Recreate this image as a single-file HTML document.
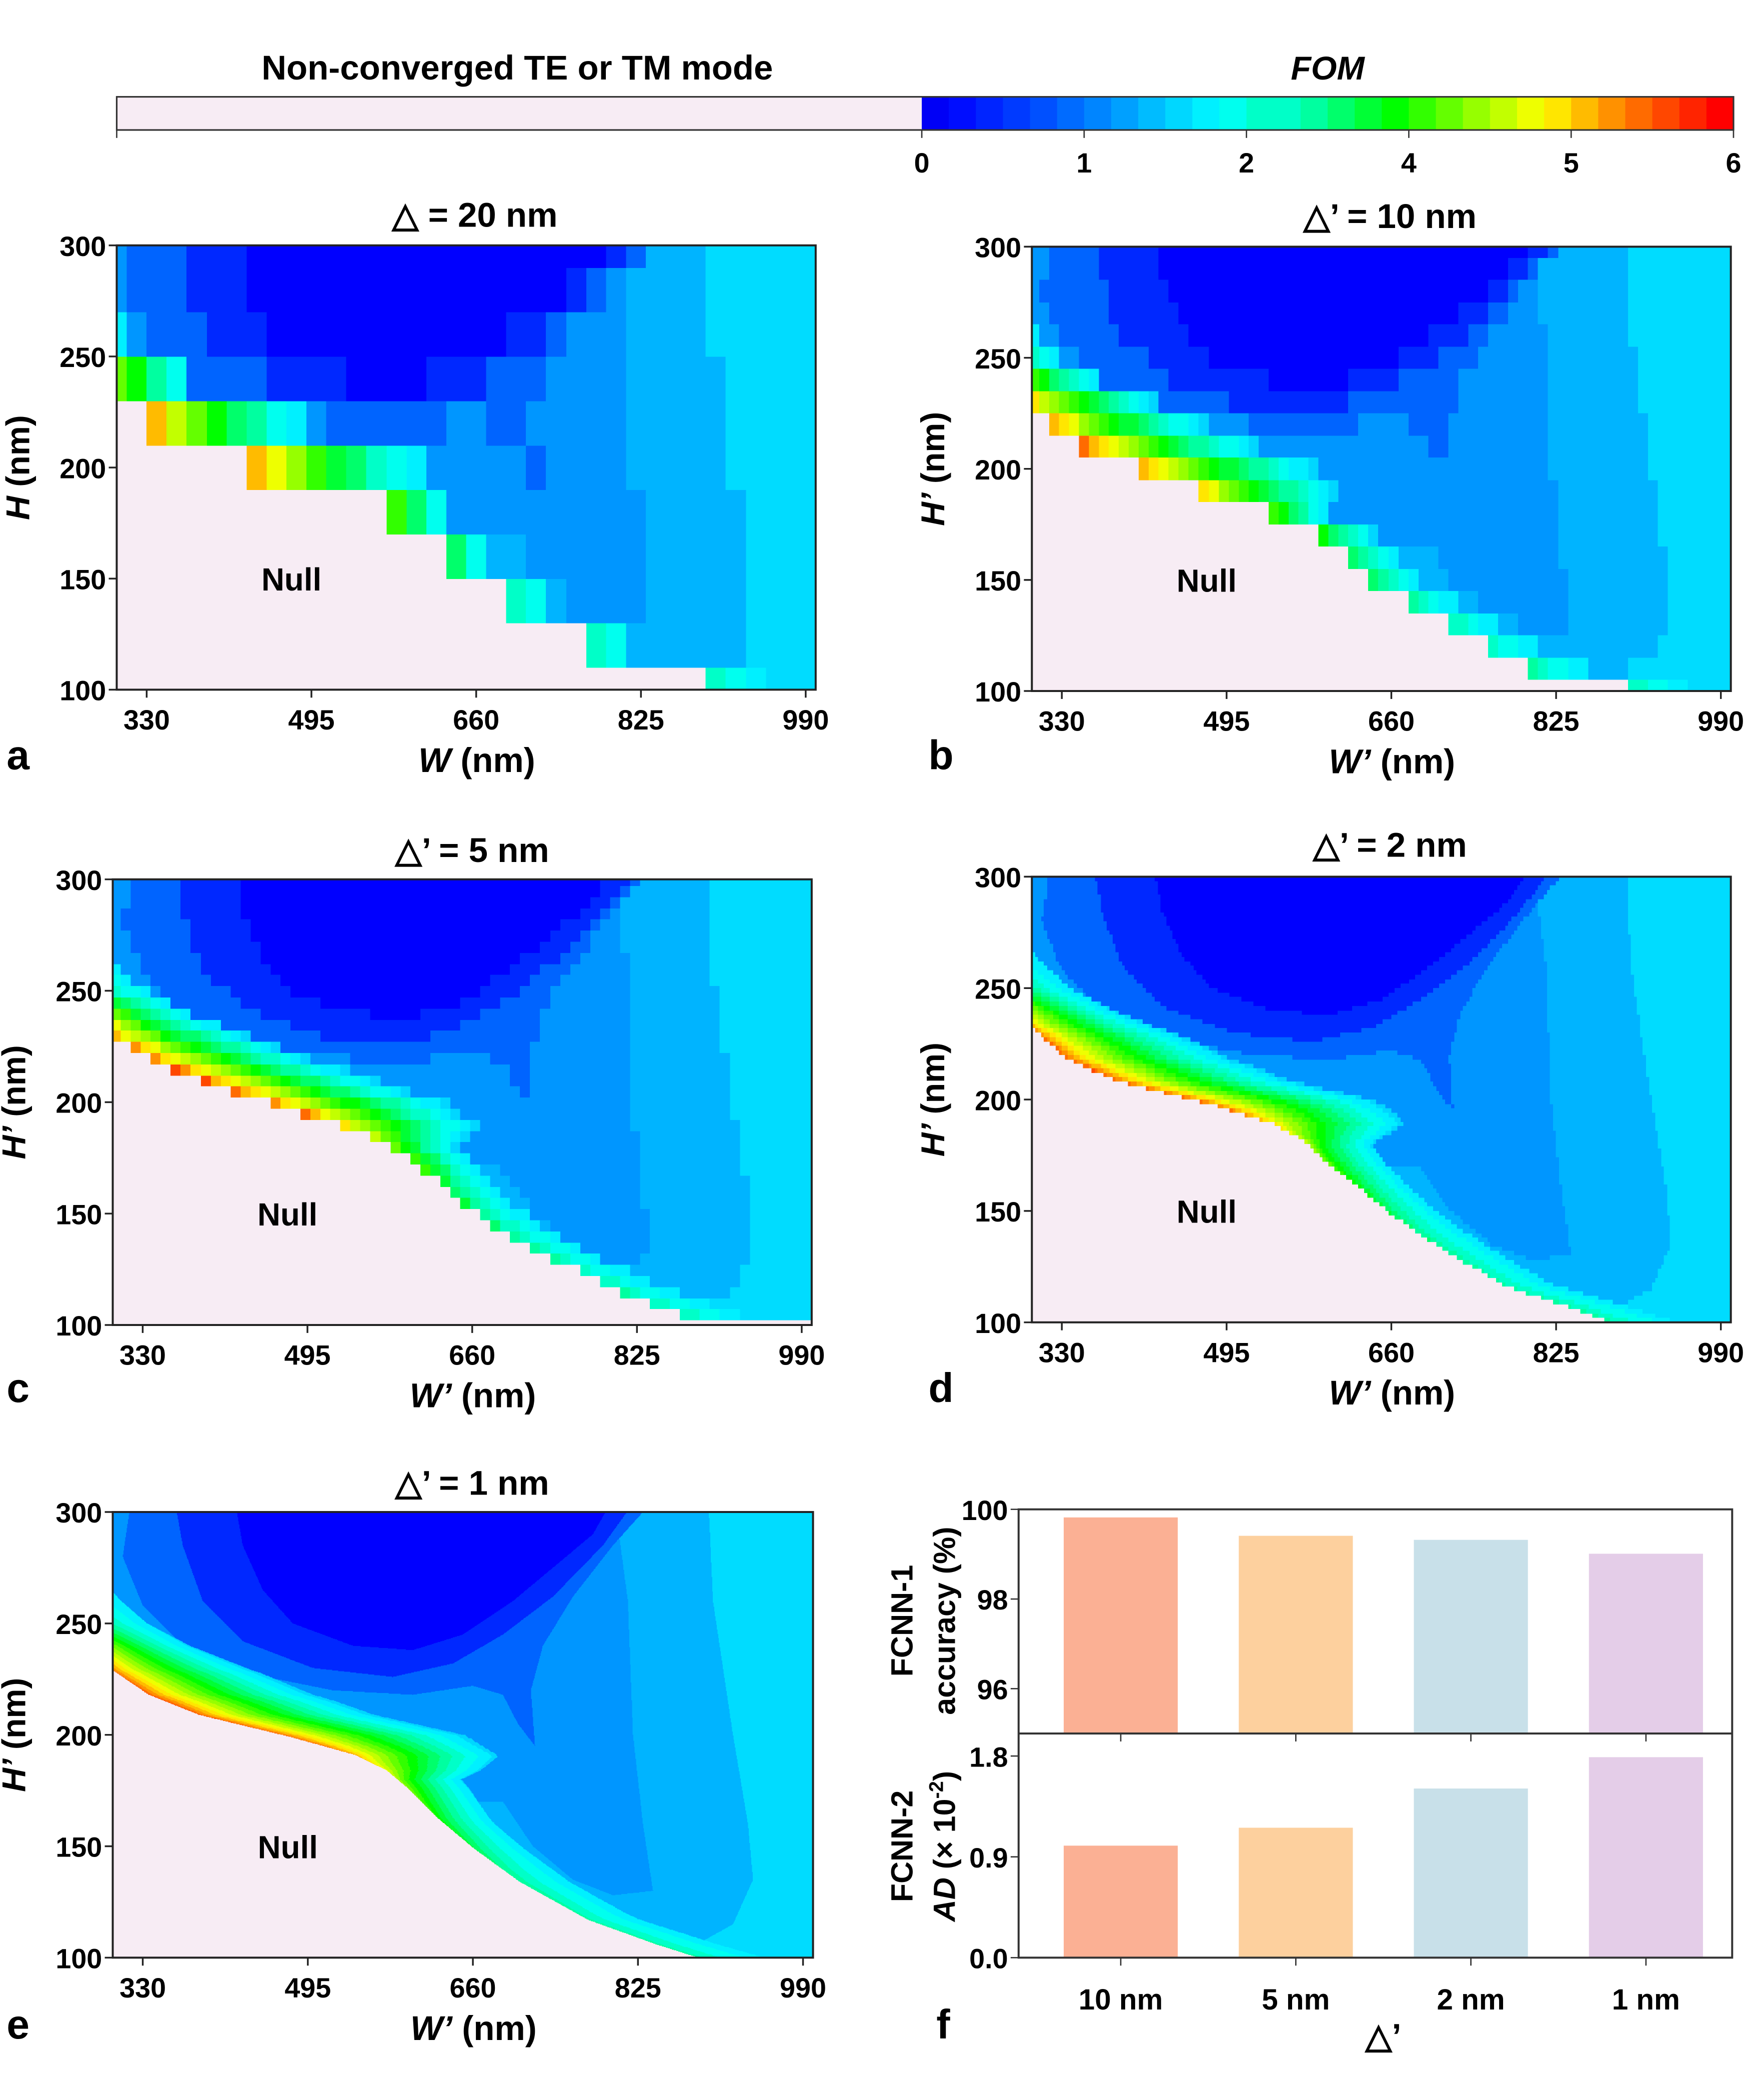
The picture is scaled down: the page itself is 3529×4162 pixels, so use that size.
<!DOCTYPE html>
<html><head><meta charset="utf-8">
<style>
html,body{margin:0;padding:0;background:#fff;}
body{width:3529px;height:4162px;overflow:hidden;position:relative;}
#wrap{position:absolute;left:0;top:0;width:1330px;height:1569px;transform-origin:0 0;transform:scale(2.65338,2.65265);}
canvas{position:absolute;image-rendering:pixelated;}
svg{position:absolute;left:0;top:0;}
text{font-family:"Liberation Sans",Arial,sans-serif;font-weight:bold;fill:#000;}
</style></head>
<body>
<div id="wrap">
<canvas id="cva"></canvas>
<canvas id="cvb"></canvas>
<canvas id="cvc"></canvas>
<canvas id="cvd"></canvas>
<canvas id="cve"></canvas>
<svg id="svg" width="1330" height="1569" viewBox="0 0 1330 1569"></svg>
</div>
<script>
// ---------- data ----------
const fTicks = ["0","1","2","4","5","6"];
const barCats = ["10 nm","5 nm","2 nm","1 nm"];
const accVals = [99.82, 99.41, 99.32, 99.01];
const adVals = [1.00, 1.16, 1.51, 1.79];
const accTicks = [96, 98, 100];
const adTicks = [0.0, 0.9, 1.8];
const barColors = ["#fbb094","#fdd09e","#c8e0e9","#e4cde8"];
const wTicks = [330, 495, 660, 825, 990];
const hTicks = [100, 150, 200, 250, 300];
// null boundary H(W) per panel
const bndA = [[300,230],[330,210],[430,190],[570,170],[630,150],[690,130],[770,110],[890,100]];
const bndB = [[300,225],[327,215],[375,205],[434,195],[505,185],[565,175],[606,165],[624,155],[656,145],[695,135],[734,125],[776,115],[826,105],[894,100],[1000,100]];
const bndC = [[300,229],[328,222],[348,217],[378,212],[408,207],[438,202],[477,197],[509,192],[543,188],[568,182],[592,177],[605,172],[628,163],[656,152],[692,141],[734,131],[775,122],[821,112],[858,106],[894,100],[1000,100]];
const bndD = [[300,232],[336,218],[386,208],[478,198],[542,189],[574,181],[592,173],[624,162],[661,148],[707,134],[775,116],[843,106],[880,100],[1000,100]];
const bndE = [[300,229],[336,218],[386,209],[478,199],[542,191],[574,184],[595,176],[624,163],[661,149],[707,134],[775,117],[843,106],[885,100],[1000,100]];
// band peak colour level and horizontal band width (nm) vs H
const peakArr = [[100,0.5],[120,0.5],[140,0.52],[160,0.6],[180,0.72],[195,0.9],[215,0.93],[228,0.9],[240,0.8],[250,0.62],[260,0.5],[270,0.42],[300,0.38]];
const widthArr = [[100,60],[120,45],[140,45],[160,45],[180,58],[190,125],[200,165],[215,155],[228,130],[240,85],[250,60],[260,50],[300,30]];
// FOM plateau regions (W,H)
const regC5 = [[420,310],[805,310],[780,290],[740,275],[700,260],[650,245],[600,238],[540,240],[480,250],[450,265],[430,285]];
const regC4 = [[360,310],[830,310],[790,285],[740,262],[690,245],[640,232],[580,226],[500,230],[430,242],[390,260],[370,285]];
const regC3 = [[320,310],[850,310],[800,285],[760,262],[730,240],[718,220],[722,195],[705,205],[690,218],[660,222],[600,218],[520,220],[430,228],[370,240],[330,258],[310,280]];
const regMid = [[290,310],[800,310],[815,260],[820,200],[830,160],[840,130],[800,128],[760,135],[720,150],[690,170],[290,170]];
const regC2 = [[290,310],[895,310],[900,260],[920,200],[935,160],[940,135],[920,115],[880,105],[860,90],[290,90]];

const NS="http://www.w3.org/2000/svg";
const svg=document.getElementById('svg');
function el(tag,attrs,parent){const e=document.createElementNS(NS,tag);for(const k in attrs)e.setAttribute(k,attrs[k]);(parent||svg).appendChild(e);return e;}
function txt(x,y,s,size,anchor,extra){const t=el('text',Object.assign({x:x,y:y,'font-size':size,'text-anchor':anchor||'middle'},extra||{}));t.textContent=s;return t;}
function interp(arr,x){if(x<=arr[0][0])return arr[0][1];for(let i=1;i<arr.length;i++){if(x<=arr[i][0]){const a=arr[i-1],b=arr[i];if(b[0]===a[0])return b[1];return a[1]+(b[1]-a[1])*(x-a[0])/(b[0]-a[0]);}}return arr[arr.length-1][1];}
function stepBnd(arr,x){let v=arr[0][1];for(const p of arr){if(x>=p[0])v=p[1];}return v;}
function inPoly(p,x,y){let c=false;for(let i=0,j=p.length-1;i<p.length;j=i++){const xi=p[i][0],yi=p[i][1],xj=p[j][0],yj=p[j][1];if(((yi>y)!=(yj>y))&&(x<(xj-xi)*(y-yi)/(yj-yi)+xi))c=!c;}return c;}
const cmapStops=[[0,[0,0,200]],[0.08,[0,0,255]],[0.2,[0,80,255]],[0.3,[0,160,255]],[0.36,[0,210,255]],[0.42,[0,255,255]],[0.5,[0,255,160]],[0.6,[0,255,0]],[0.7,[150,255,0]],[0.78,[255,255,0]],[0.88,[255,128,0]],[1,[255,0,0]]];
function cmap(t){t=Math.max(0,Math.min(1,Math.round(t*30)/30));for(let i=1;i<cmapStops.length;i++){if(t<=cmapStops[i][0]){const a=cmapStops[i-1],b=cmapStops[i];const f=(t-a[0])/(b[0]-a[0]);return a[1].map((v,k)=>Math.round(v+(b[1][k]-v)*f));}}return [255,0,0];}
function makeWn(bnd,stepped){
  const bf=stepped?(w=>stepBnd(bnd,w)):(w=>interp(bnd,w));
  const b300=bf(300);const tab=[];
  for(let h=85;h<=315;h+=0.25){let wn;
    if(h>=b300) wn=300-(h-b300)*1.5;
    else{wn=1000;for(let w=300;w<=1000;w+=0.5){if(bf(w)<=h){wn=w;break;}}}
    tab.push(wn);}
  return {bf:bf,tab:tab};
}
function colorAt(P,W,H){
  if(H<P.bf(W)) return [247,236,244];
  const wn=P.tab[Math.max(0,Math.min(P.tab.length-1,Math.round((H-85)/0.25)))];
  const d=Math.max(0,W-wn), wd=interp(widthArr,H), pk=interp(peakArr,H);
  const f=d/wd;
  if(f<1.1){const t=pk-(pk-0.4)*Math.pow(f,0.7);if(t>0.36) return cmap(t);}
  if(inPoly(regC5,W,H)) return [0,0,255];
  if(inPoly(regC4,W,H)) return [0,40,255];
  if(inPoly(regC3,W,H)) return [0,100,255];
  if(inPoly(regMid,W,H)) return [0,150,255];
  if(inPoly(regC2,W,H)) return [0,180,255];
  return [0,220,255];
}
const panels=[
 {id:'cva',x:88,y:185,w:527,h:335,bnd:bndA,step:true,cw:20,w0:290,ch:20,h0:90,title:"△ = 20 nm",tx:358,ty:171,xl:"W",yl:"H",let:"a",lx:5,ly:580},
 {id:'cvb',x:778,y:186,w:527,h:335,bnd:bndB,cw:10,w0:297,ch:10,h0:95,title:"△’ = 10 nm",tx:1048,ty:172,xl:"W’",yl:"H’",let:"b",lx:700,ly:580},
 {id:'cvc',x:85,y:663,w:527,h:336,bnd:bndC,cw:10,w0:298,ch:5,h0:97,title:"△’ = 5 nm",tx:356,ty:650,xl:"W’",yl:"H’",let:"c",lx:5,ly:1057},
 {id:'cvd',x:778,y:661,w:527,h:336,bnd:bndD,cw:3,w0:300,ch:2,h0:100,title:"△’ = 2 nm",tx:1048,ty:646,xl:"W’",yl:"H’",let:"d",lx:700,ly:1057},
 {id:'cve',x:85,y:1140,w:528,h:336,bnd:bndE,cw:0,title:"△’ = 1 nm",tx:356,ty:1127,xl:"W’",yl:"H’",let:"e",lx:5,ly:1537}
];
panels.forEach(p=>{
  const P=makeWn(p.bnd,p.step);
  const c=document.getElementById(p.id);
  const S=2;c.width=p.w*S;c.height=p.h*S;
  c.style.left=p.x+'px';c.style.top=p.y+'px';c.style.width=p.w+'px';c.style.height=p.h+'px';
  const ctx=c.getContext('2d');const img=ctx.createImageData(c.width,c.height);
  for(let j=0;j<c.height;j++){for(let i=0;i<c.width;i++){
    let W=300+700*(i+0.5)/c.width, H=300-200*(j+0.5)/c.height;
    if(p.cw){W=p.w0+(Math.floor((W-p.w0)/p.cw)+0.5)*p.cw;H=p.h0+(Math.floor((H-p.h0)/p.ch)+0.5)*p.ch;}
    const col=colorAt(P,W,H);const k=(j*c.width+i)*4;
    img.data[k]=col[0];img.data[k+1]=col[1];img.data[k+2]=col[2];img.data[k+3]=255;}}
  ctx.putImageData(img,0,0);
  const g=el('g',{});
  
  
  const fr=el('rect',{x:p.x,y:p.y,width:p.w,height:p.h,fill:'none',stroke:'#222','stroke-width':1.5},g);
  
  const xs=W=>p.x+(W-300)/700*p.w, ys=H=>p.y+(300-H)/200*p.h;
  wTicks.forEach(v=>{el('line',{x1:xs(v),x2:xs(v),y1:p.y+p.h,y2:p.y+p.h+6,stroke:'#222','stroke-width':1.3},g);
    const t=txt(xs(v),p.y+p.h+30,String(v),21,'middle');g.appendChild(t);});
  hTicks.forEach(v=>{el('line',{x1:p.x-6,x2:p.x,y1:ys(v),y2:ys(v),stroke:'#222','stroke-width':1.3},g);
    const t=txt(p.x-8,ys(v)+8,String(v),21,'end');g.appendChild(t);});
  const tt=txt(p.tx,p.ty,p.title,26,'middle');
  const xl=el('text',{x:p.x+p.w/2+8,y:p.y+p.h+62,'font-size':26,'text-anchor':'middle'},g);
  
  const xi=el('tspan',{'font-style':'italic'},xl);xi.textContent=p.xl;const xr=el('tspan',{},xl);xr.textContent=" (nm)";
  const yx=p.x-66, yy=p.y+p.h/2;
  const yl=el('text',{x:yx,y:yy,'font-size':25,'text-anchor':'middle',transform:'rotate(-90 '+yx+' '+yy+')'},g);
  
  const yi=el('tspan',{'font-style':'italic'},yl);yi.textContent=p.yl;const yr=el('tspan',{},yl);yr.textContent=" (nm)";
  const nl=txt(xs(475),ys(150)+9,"Null",24,'middle');
  const lt=txt(p.lx,p.ly,p.let,31,'start');
});
// ---------- colorbar ----------
(function(){
  const g=el('g',{});
  const nr=el('rect',{x:88,y:73,width:607,height:25,fill:'#f7ecf4'},g);
  const N=30,x0=695,x1=1307;
  for(let i=0;i<N;i++){const col=cmap(0.06+0.94*(i+0.5)/N);
    const r=el('rect',{x:x0+(x1-x0)*i/N,y:73,width:(x1-x0)/N+0.6,height:25,fill:'rgb('+col.join(',')+')'},g);
    }
  el('rect',{x:88,y:73,width:1219,height:25,fill:'none',stroke:'#333','stroke-width':1.2},g);
  el('line',{x1:88,x2:88,y1:98,y2:104,stroke:'#333'},g);
  fTicks.forEach((s,i)=>{const x=x0+(x1-x0)*i/(fTicks.length-1);el('line',{x1:x,x2:x,y1:98,y2:104,stroke:'#333'},g);
    const t=txt(x,130,s,21,'middle');});
  const a=txt(390,60,"Non-converged TE or TM mode",26,'middle');
  const b=txt(1001,60,"FOM",25,'middle',{'font-style':'italic'});
})();
// ---------- panel f ----------
(function(){
  const L=768,R=1306,T=1138,M=1307,B=1476;
  const g=el('g',{});
  const ya=v=>M-(v-95)/5*(M-T);
  const yb=v=>B-v/1.8*(B-1324);
  const cx=i=>845+132*i;
  barCats.forEach((c,i)=>{
    const r1=el('rect',{x:cx(i)-43,y:ya(accVals[i]),width:86,height:M-ya(accVals[i]),fill:barColors[i]},g);
    
    const r2=el('rect',{x:cx(i)-43,y:yb(adVals[i]),width:86,height:B-yb(adVals[i]),fill:barColors[i]},g);
    
    el('line',{x1:cx(i),x2:cx(i),y1:M,y2:M+6,stroke:'#333'},g);
    el('line',{x1:cx(i),x2:cx(i),y1:B,y2:B+6,stroke:'#333'},g);
    const t=txt(cx(i),1515,c,22,'middle');
  });
  el('rect',{x:L,y:T,width:R-L,height:B-T,fill:'none',stroke:'#333','stroke-width':1.5},g);
  el('line',{x1:L,x2:R,y1:M,y2:M,stroke:'#333','stroke-width':1.5},g);
  accTicks.forEach(v=>{el('line',{x1:L-6,x2:L,y1:ya(v),y2:ya(v),stroke:'#333'},g);
    const t=txt(L-8,ya(v)+8,String(v),21,'end');});
  adTicks.forEach(v=>{el('line',{x1:L-6,x2:L,y1:yb(v),y2:yb(v),stroke:'#333'},g);
    const t=txt(L-8,yb(v)+8,v.toFixed(1),21,'end');});
  const y1=txt(688,1222,"FCNN-1",23,'middle',{transform:'rotate(-90 688 1222)'});
  const y2=txt(720,1222,"accuracy (%)",23,'middle',{transform:'rotate(-90 720 1222)'});
  const y3=txt(688,1392,"FCNN-2",23,'middle',{transform:'rotate(-90 688 1392)'});
  const y4=el('text',{x:720,y:1392,'font-size':23,'text-anchor':'middle',transform:'rotate(-90 720 1392)'},g);
  
  const s1=el('tspan',{'font-style':'italic'},y4);s1.textContent="AD";
  const s2=el('tspan',{},y4);s2.textContent=" (× 10";
  const s3=el('tspan',{dy:-9,'font-size':15},y4);s3.textContent="-2";
  const s4=el('tspan',{dy:9},y4);s4.textContent=")";
  const xt=txt(1043,1544,"△’",26,'middle');
  const lt=txt(706,1537,"f",31,'start');
})();
</script>
</body></html>
